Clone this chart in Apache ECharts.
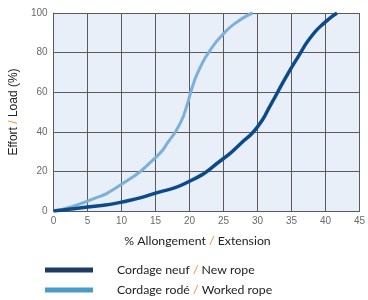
<!DOCTYPE html>
<html><head><meta charset="utf-8">
<script src="https://cdn.jsdelivr.net/npm/echarts@6/dist/echarts.min.js"></script>
<style>html,body{margin:0;padding:0;background:#fff}#c{width:368px;height:300px}</style>
</head><body><div id="c"></div>
<script>
const xTicks = [0, 5, 10, 15, 20, 25, 30, 35, 40, 45];
const yTicks = [0, 20, 40, 60, 80, 100];
const newRope = [[0,0],[5,2],[10,4.5],[15,9],[20,15],[25,26.5],[27.5,34],[30,42.5],[32,54],[34,66.5],[36,78],[38,88.5],[40,95.5],[41.7,100]];
const workedRope = [[0,0],[5,5],[10,13.5],[15,27],[17,35.5],[18.5,43.5],[19.5,52],[20.5,63.5],[21.5,72],[23,81],[25,89.5],[27,95.5],[29.3,100]];
const seriesNames = ['Cordage neuf / New rope', 'Cordage rodé / Worked rope'];

const chart = echarts.init(document.getElementById('c'), null, {renderer: 'canvas'});
const gridCol = '#5a5a5a';
const sans = '"Liberation Sans", Arial, sans-serif';
const cal = 'Lato, "Open Sans", sans-serif';
chart.setOption({
  animation: false,
  grid: {left: 50, right: 2, top: 13, bottom: 89, show: true, backgroundColor: '#e8eff8', borderWidth: 0},
  xAxis: {
    type: 'value', min: xTicks[0], max: xTicks[xTicks.length-1], interval: 5,
    axisLine: {show: true, lineStyle: {color: gridCol, width: 1}},
    axisTick: {show: false},
    splitLine: {show: true, lineStyle: {color: gridCol, width: 1}},
    axisLabel: {color: '#6a6a6a', fontFamily: sans, fontSize: 10, margin: 5},
    name: '{t|% Allongement }{o|/}{t| Extension}',
    nameLocation: 'middle', nameGap: 24,
    nameTextStyle: {rich: {t: {fontFamily: cal, fontSize: 12.3, color: '#222'}, o: {fontFamily: cal, fontSize: 12.3, color: '#f08a24'}}, padding: [0, 18, 0, 0]}
  },
  yAxis: {
    type: 'value', min: yTicks[0], max: yTicks[yTicks.length-1], interval: 20,
    axisLine: {show: true, lineStyle: {color: gridCol, width: 1}},
    axisTick: {show: false},
    splitLine: {show: true, lineStyle: {color: gridCol, width: 1}},
    axisLabel: {color: '#6a6a6a', fontFamily: sans, fontSize: 10, margin: 6},
    name: '{t|Effort }{o|/}{t| Load (%)}',
    nameLocation: 'middle', nameGap: 25, nameRotate: 90,
    nameTextStyle: {rich: {t: {fontFamily: sans, fontSize: 12, color: '#222'}, o: {fontFamily: sans, fontSize: 12, color: '#f08a24'}}}
  },
  legend: {
    orient: 'vertical', left: 45, top: 264, height: 40, padding: 0, itemWidth: 48, itemHeight: 5, itemGap: 8,
    icon: 'rect',
    data: [
      {name: seriesNames[0], itemStyle: {color: '#1e3b62'}},
      {name: seriesNames[1], itemStyle: {color: '#4a9bc6'}}
    ],
    formatter: function (n) { const p = n.split(' / '); return '{t|' + p[0] + ' }{o|/}{t| ' + p[1] + '}'; },
    textStyle: {padding: [0, 0, 0, 19], rich: {t: {fontFamily: cal, fontSize: 12.3, color: '#222'}, o: {fontFamily: cal, fontSize: 12.3, color: '#f08a24'}}}
  },
  series: [
    {name: seriesNames[0], type: 'line', data: newRope, smooth: 0.6, showSymbol: false, lineStyle: {color: '#0c4a8a', width: 3.5}, itemStyle: {color: '#0c4a8a'}, z: 3},
    {name: seriesNames[1], type: 'line', data: workedRope, smooth: 0.6, showSymbol: false, lineStyle: {color: '#7cafda', width: 3}, itemStyle: {color: '#7cafda'}, z: 2}
  ]
});
</script></body></html>
